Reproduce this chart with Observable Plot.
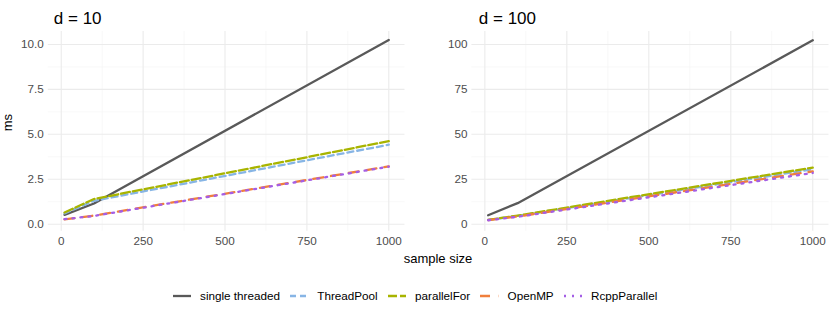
<!DOCTYPE html>
<html>
<head>
<meta charset="utf-8">
<script src="https://cdn.jsdelivr.net/npm/d3@7"></script>
<script src="https://cdn.jsdelivr.net/npm/@observablehq/plot@0.6"></script>
<style>
  body { margin: 0; background: #fff; font-family: "Liberation Sans", Arial, sans-serif; }
  #wrap { position: relative; width: 830px; height: 312px; }
  #row { position: absolute; left: 0; top: 0; display: flex; }
  #xlab { position: absolute; left: 0; width: 876px; top: 251px; text-align: center; font-size: 13px; color: #000; line-height: 16px; }
  #legend { position: absolute; left: 0; top: 288px; width: 830px; display: flex; justify-content: center; align-items: center; font-size: 11.7px; color: #000; line-height: 16px; }
  .item { display: flex; align-items: center; margin: 0 5px; }
  .item svg { margin-right: 9px; }
</style>
</head>
<body>
<div id="wrap">
  <div id="row"></div>
  <div id="xlab">sample size</div>
  <div id="legend"></div>
</div>
<script>
// ---- data ----
const sizes = [10, 100, 1000];
const methods = ["single threaded", "ThreadPool", "parallelFor", "OpenMP", "RcppParallel"];
const d10 = {
  "single threaded": [0.52, 1.15, 10.25],
  "ThreadPool": [0.6, 1.3, 4.42],
  "parallelFor": [0.65, 1.4, 4.62],
  "OpenMP": [0.27, 0.48, 3.22],
  "RcppParallel": [0.28, 0.46, 3.2]
};
const d100 = {
  "single threaded": [5.0, 11.7, 102.3],
  "ThreadPool": [2.4, 4.6, 30.6],
  "parallelFor": [2.4, 4.8, 31.5],
  "OpenMP": [2.3, 4.3, 29.4],
  "RcppParallel": [2.2, 4.1, 28.5]
};
const xTicks = [0, 250, 500, 750, 1000];
const xMinor = [125, 375, 625, 875];
const yTicks10 = [0, 2.5, 5, 7.5, 10];
const yMinor10 = [1.25, 3.75, 6.25, 8.75];
const yTicks100 = [0, 25, 50, 75, 100];
const yMinor100 = [12.5, 37.5, 62.5, 87.5];

// ---- styles ----
const colors = ["#595959", "#87B5E5", "#A8B400", "#F07F3C", "#A45EE5"];
const dashes = [null, "6,4", "9,3", "10,8", "2,6"];

function rows(obj) {
  const out = [];
  methods.forEach(m => obj[m].forEach((v, i) => out.push({method: m, n: sizes[i], ms: v})));
  return out;
}

function panel(opts) {
  const data = rows(opts.values);
  const marks = [
    Plot.ruleX(xMinor, {stroke: "#f3f3f3", strokeWidth: 0.6}),
    Plot.ruleY(opts.yMinor, {stroke: "#f3f3f3", strokeWidth: 0.6}),
    Plot.ruleX(xTicks, {stroke: "#ebebeb", strokeWidth: 1.1}),
    Plot.ruleY(opts.yTicks, {stroke: "#ebebeb", strokeWidth: 1.1})
  ];
  methods.forEach((m, i) => {
    const o = {x: "n", y: "ms", stroke: colors[i], strokeWidth: 2.3, filter: d => d.method === m};
    if (dashes[i]) o.strokeDasharray = dashes[i];
    marks.push(Plot.line(data, o));
  });
  marks.push(Plot.text([opts.title], {frameAnchor: "top-left", dx: opts.titleDx, dy: -13.3, textAnchor: "start", lineAnchor: "middle", fontSize: 17, fill: "#000"}));
  if (opts.ylab) {
    marks.push(Plot.text([opts.ylab], {frameAnchor: "left", dx: -40.5, rotate: -90, fontSize: 13, fill: "#000"}));
  }
  return Plot.plot({
    width: 415,
    height: 250,
    marginLeft: opts.ml,
    marginRight: opts.mr,
    marginTop: 31,
    marginBottom: 19.3,
    style: {fontFamily: "'Liberation Sans', Arial, sans-serif", fontSize: "11.7px", color: "#4d4d4d", background: "transparent"},
    x: {domain: [-39.5, 1049.5], ticks: xTicks, tickSize: 0, tickPadding: 5, label: null, tickFormat: d => String(d)},
    y: {domain: opts.yDomain, ticks: opts.yTicks, tickSize: 0, tickPadding: 4.5, label: null, tickFormat: opts.fmt},
    marks
  });
}

const row = document.getElementById("row");
row.appendChild(panel({values: d10, title: "d = 10", titleDx: 5.5, ylab: "ms", ml: 47.8, mr: 10.5,
  yDomain: [-0.39, 10.72], yTicks: yTicks10, yMinor: yMinor10, fmt: d => d.toFixed(1)}));
row.appendChild(panel({values: d100, title: "d = 100", titleDx: 6.9, ml: 56.4, mr: 1.5,
  yDomain: [-3.9, 107.2], yTicks: yTicks100, yMinor: yMinor100, fmt: d => String(d)}));

// ---- legend ----
const legend = document.getElementById("legend");
methods.forEach((m, i) => {
  const item = document.createElement("div");
  item.className = "item";
  const dash = dashes[i] ? ` stroke-dasharray="${dashes[i]}"` : "";
  item.innerHTML = `<svg width="18.3" height="10"><line x1="0" x2="18.3" y1="5" y2="5" stroke="${colors[i]}" stroke-width="2.3"${dash}/></svg><span>${m}</span>`;
  legend.appendChild(item);
});
</script>
</body>
</html>
